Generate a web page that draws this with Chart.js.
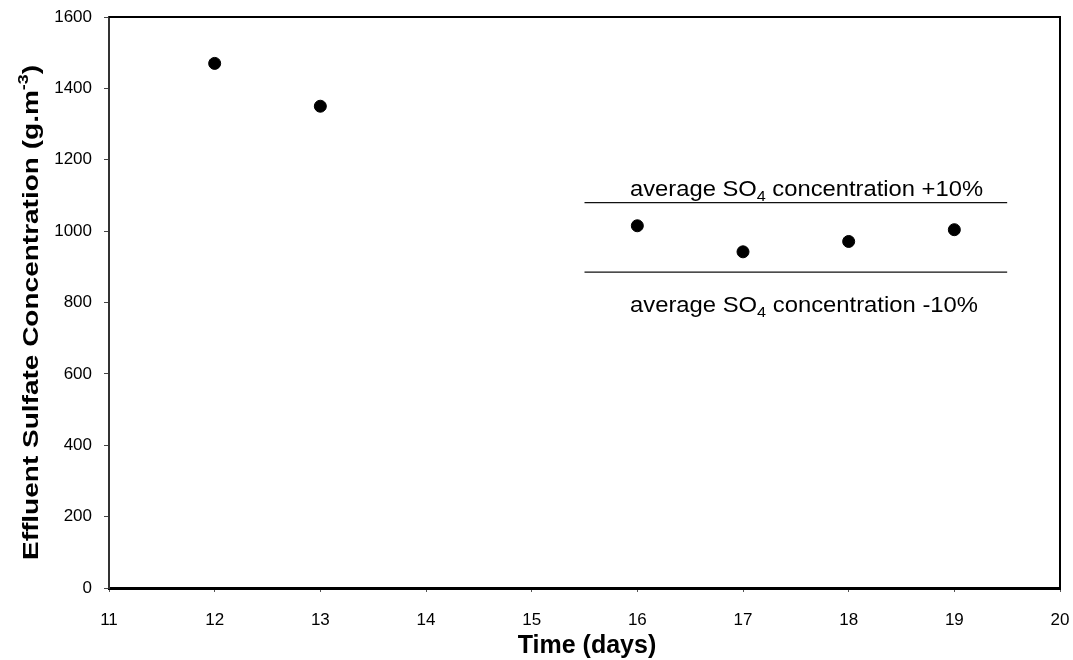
<!DOCTYPE html>
<html>
<head>
<meta charset="utf-8">
<script src="https://cdn.jsdelivr.net/npm/chart.js@4.4.0/dist/chart.umd.min.js"></script>
<style>
  html, body { margin: 0; padding: 0; background: #fff; }
  #wrap { width: 1073px; height: 660px; position: relative; }
</style>
</head>
<body>
<div id="wrap"><canvas id="c" width="1073" height="660"></canvas></div>
<script>
// ---- data ----
const days = [12, 13, 16, 17, 18, 19];
const sulfate = [1470, 1350, 1015, 942, 971, 1004];
const bandDays = [15.5, 19.5];
const upperBand = [1080, 1080];
const lowerBand = [885, 885];
const xTickValues = [11, 12, 13, 14, 15, 16, 17, 18, 19, 20];
const yTickValues = [0, 200, 400, 600, 800, 1000, 1200, 1400, 1600];
const upperLabel = ["average SO", "4", " concentration +10%"];
const lowerLabel = ["average SO", "4", " concentration -10%"];
const yTitle = ["Effluent Sulfate Concentration (g.m", "-3", ")"];
const xTitle = "Time (days)";

const FONT = '"Liberation Sans", Arial, Helvetica, sans-serif';

function pts(xs, ys) { return xs.map((x, i) => ({ x: x, y: ys[i] })); }

// draw text made of parts (normal / sub / super), stretched to a target width
function drawParts(ctx, parts, x, y, targetWidth, rotate) {
  ctx.save();
  ctx.translate(x, y);
  if (rotate) ctx.rotate(-Math.PI / 2);
  let total = 0;
  parts.forEach(p => { ctx.font = p.font; total += ctx.measureText(p.text).width; });
  const s = targetWidth ? targetWidth / total : 1;
  ctx.scale(s, 1);
  ctx.textAlign = 'left';
  ctx.textBaseline = 'alphabetic';
  ctx.fillStyle = '#000';
  let cx = 0;
  parts.forEach(p => {
    ctx.font = p.font;
    ctx.fillText(p.text, cx, p.dy || 0);
    cx += ctx.measureText(p.text).width;
  });
  ctx.restore();
}

const decorPlugin = {
  id: 'decor',
  afterDraw(chart) {
    const ctx = chart.ctx;
    const a = chart.chartArea;
    ctx.save();
    // top & right frame
    ctx.strokeStyle = '#000';
    ctx.lineWidth = 2;
    ctx.beginPath();
    ctx.moveTo(a.left, a.top);
    ctx.lineTo(a.right, a.top);
    ctx.lineTo(a.right, a.bottom);
    ctx.stroke();
    ctx.restore();

    const ys = chart.scales.y;
    // band labels
    const lx = 630;
    drawParts(ctx, [
      { text: upperLabel[0], font: '22px ' + FONT },
      { text: upperLabel[1], font: '15px ' + FONT, dy: 5 },
      { text: upperLabel[2], font: '22px ' + FONT }
    ], lx, ys.getPixelForValue(upperBand[0]) - 7, 353, false);
    drawParts(ctx, [
      { text: lowerLabel[0], font: '22px ' + FONT },
      { text: lowerLabel[1], font: '15px ' + FONT, dy: 5 },
      { text: lowerLabel[2], font: '22px ' + FONT }
    ], lx, ys.getPixelForValue(lowerBand[0]) + 40, 348, false);

    // y title (rotated)
    drawParts(ctx, [
      { text: yTitle[0], font: 'bold 22px ' + FONT },
      { text: yTitle[1], font: 'bold 14px ' + FONT, dy: -10 },
      { text: yTitle[2], font: 'bold 22px ' + FONT }
    ], 38, 560, 495, true);

    // x title
    ctx.save();
    ctx.font = 'bold 25px ' + FONT;
    ctx.fillStyle = '#000';
    ctx.textAlign = 'center';
    ctx.textBaseline = 'alphabetic';
    ctx.fillText(xTitle, 587, 653);
    ctx.restore();
  }
};

new Chart(document.getElementById('c'), {
  type: 'scatter',
  data: {
    datasets: [
      {
        label: 'Effluent sulfate',
        data: pts(days, sulfate),
        backgroundColor: '#000',
        borderColor: '#000',
        pointRadius: 6,
        pointHoverRadius: 6,
        showLine: false,
        order: 0
      },
      {
        label: 'average +10%',
        data: pts(bandDays, upperBand),
        showLine: true,
        borderColor: '#111',
        borderWidth: 1.2,
        pointRadius: 0,
        fill: false,
        order: 1
      },
      {
        label: 'average -10%',
        data: pts(bandDays, lowerBand),
        showLine: true,
        borderColor: '#111',
        borderWidth: 1.4,
        pointRadius: 0,
        fill: false,
        order: 1
      }
    ]
  },
  options: {
    responsive: false,
    animation: false,
    devicePixelRatio: 1,
    layout: { padding: { top: 17, right: 13, left: 0, bottom: 0 } },
    plugins: {
      legend: { display: false },
      tooltip: { enabled: false },
      title: { display: false }
    },
    scales: {
      x: {
        type: 'linear',
        min: 11, max: 20,
        afterBuildTicks(scale) { scale.ticks = xTickValues.map(v => ({ value: v })); },
        afterFit(scale) { scale.height = 72; scale.paddingLeft = 0; scale.paddingRight = 0; },
        ticks: {
          font: { family: FONT, size: 17 },
          color: '#000',
          padding: 18,
          maxRotation: 0,
          autoSkip: false,
          callback: v => String(v)
        },
        grid: {
          drawOnChartArea: false,
          drawTicks: true,
          tickLength: 4,
          tickColor: '#555',
          tickWidth: 1
        },
        border: { display: true, color: '#000', width: 3 }
      },
      y: {
        type: 'linear',
        min: 0, max: 1600,
        afterBuildTicks(scale) { scale.ticks = yTickValues.map(v => ({ value: v })); },
        afterFit(scale) { scale.width = 109; scale.paddingTop = 0; scale.paddingBottom = 0; },
        ticks: {
          font: { family: FONT, size: 17 },
          color: '#000',
          padding: 12,
          autoSkip: false,
          callback: v => String(v)
        },
        grid: {
          drawOnChartArea: false,
          drawTicks: true,
          tickLength: 5,
          tickColor: '#444',
          tickWidth: 1
        },
        border: { display: true, color: '#333', width: 2 }
      }
    }
  },
  plugins: [decorPlugin]
});
</script>
</body>
</html>
